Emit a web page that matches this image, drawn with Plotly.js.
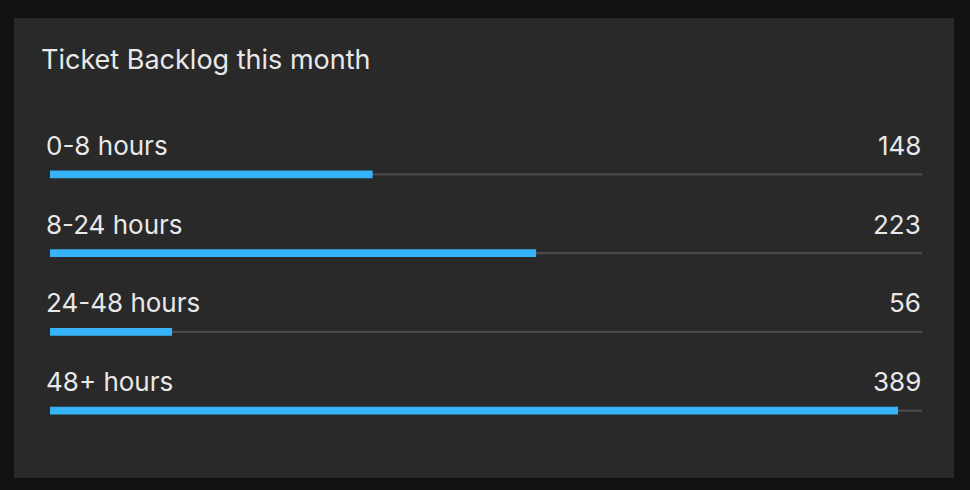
<!DOCTYPE html>
<html>
<head>
<meta charset="utf-8">
<script src="https://cdn.plot.ly/plotly-3.0.1.min.js"></script>
<style>
  html, body { margin: 0; padding: 0; background: #111214; width: 970px; height: 490px; overflow: hidden; }
  #panel { position: absolute; left: 14px; top: 18px; width: 940px; height: 460px; background: #292929; }
  #chart { width: 940px; height: 460px; }
</style>
</head>
<body>
<div id="panel"><div id="chart"></div></div>
<script>
const categories = ["0-8 hours", "8-24 hours", "24-48 hours", "48+ hours"];
const values = [148, 223, 56, 389];
const maxValue = 400;
const trackValues = categories.map(() => maxValue);
const chartTitle = "Ticket Backlog this month";

const textColor = "#e8e8e8";
const fontFamily = "Inter, 'Noto Sans', sans-serif";

const track = {
  type: "bar", orientation: "h",
  x: trackValues, y: categories,
  width: categories.map(() => 0.026),
  marker: { color: "#4a4a4a" },
  hoverinfo: "skip", showlegend: false
};
const bars = {
  type: "bar", orientation: "h",
  x: values, y: categories,
  width: categories.map(() => 0.1),
  marker: { color: "#37b4f8" },
  showlegend: false
};

const annotations = [];
categories.forEach((c, i) => {
  annotations.push({
    x: 0, y: c, xref: "x", yref: "y", text: c, showarrow: false,
    xanchor: "left", yanchor: "middle", xshift: -6, yshift: 29,
    font: { family: fontFamily, size: 26, color: textColor }
  });
  annotations.push({
    x: maxValue, y: c, xref: "x", yref: "y", text: String(values[i]), showarrow: false,
    xanchor: "right", yanchor: "middle", xshift: 1, yshift: 29,
    font: { family: fontFamily, size: 26, color: textColor }
  });
});

const layout = {
  width: 940, height: 460,
  paper_bgcolor: "#292929", plot_bgcolor: "#292929",
  margin: { l: 36, r: 32, t: 116.5, b: 27.5 },
  barmode: "overlay",
  title: {
    text: chartTitle, x: 27 / 940, xanchor: "left", xref: "container",
    y: 1 - 42 / 460, yanchor: "middle", yref: "container",
    font: { family: fontFamily, size: 27, color: textColor }
  },
  xaxis: { range: [0, maxValue], visible: false, fixedrange: true },
  yaxis: { range: [3.5, -0.5], visible: false, type: "category", fixedrange: true },
  annotations: annotations
};

Plotly.newPlot("chart", [track, bars], layout, { displayModeBar: false, staticPlot: true });
</script>
</body>
</html>
